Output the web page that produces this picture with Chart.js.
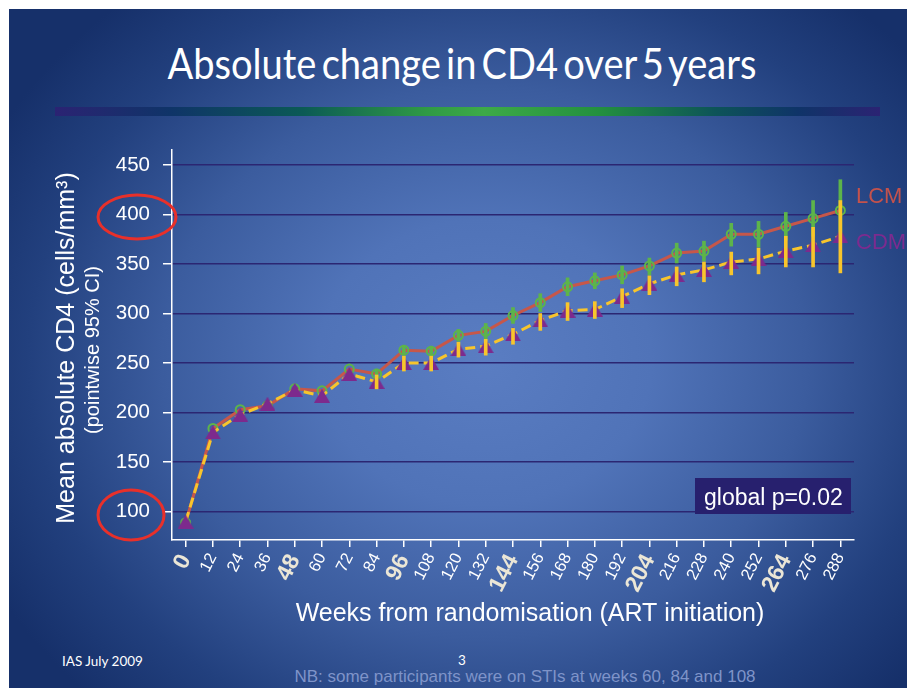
<!DOCTYPE html>
<html lang="en">
<head>
<meta charset="utf-8" />
<title>Absolute change in CD4 over 5 years</title>
<script src="https://cdn.jsdelivr.net/npm/chart.js"></script>
<style>
  body { margin: 0; width: 907px; height: 688px; overflow: hidden; position: relative; background: #fff; }
  #slide {
    position: absolute; left: 9px; top: 9px; width: 898px; height: 679px;
    background: radial-gradient(ellipse 62% 70% at 53% 52%, #5a7dc2 0%, #5073b8 30%, #3b5c9e 58%, #22407e 82%, #16306a 100%);
  }
  #title {
    position: absolute; left: 462px; top: 38px; white-space: nowrap;
    font-family: Lato, sans-serif; font-size: 42px; color: #fff; word-spacing: -5px;
    transform-origin: 0 0;
  }
  #rule {
    position: absolute; left: 55px; top: 107px; width: 825px; height: 9px;
    background: linear-gradient(to right, #2b2373 0%, #0f3468 14%, #0b5a55 30%, #2f9a45 45%, #3daa48 52%, #23903f 66%, #0d5458 80%, #0f3468 90%, #2b2373 100%);
  }
  .foot { position: absolute; color: #fff; font-family: Lato, sans-serif; font-size: 13.5px; }
  #nb { position: absolute; left: 525px; top: 667px; transform: translateX(-50%); white-space: nowrap;
    font-family: "Liberation Sans", Arial, sans-serif; font-size: 17px; color: #7f94c9; }
  canvas { position: absolute; left: 0; top: 0; }
</style>
</head>
<body>
<div id="slide"></div>
<div id="title">Absolute change in CD4 over 5 years</div>
<div id="rule"></div>
<div class="foot" style="left:62px; top:653px;">IAS July 2009</div>
<div class="foot" style="left:458px; top:652px;">3</div>
<div id="nb">NB: some participants were on STIs at weeks 60, 84 and 108</div>
<canvas id="chart" width="907" height="688"></canvas>
<script>
// weeks from randomisation
const weeks = ['0', '12', '24', '36', '48', '60', '72', '84', '96', '108', '120', '132', '144',
  '156', '168', '180', '192', '204', '216', '228', '240', '252', '264', '276', '288'];
const boldWeeks = ['0', '48', '96', '144', '204', '264'];
const yTicks = [100, 150, 200, 250, 300, 350, 400, 450];

// LCM arm: mean and pointwise 95% CI (early CIs hidden under the markers)
const lcmMean = [89, 184, 203, 207, 224, 222, 244, 239, 263, 262, 278, 282, 298,
  311, 327, 333, 339, 348, 361, 363, 380, 380, 388, 396, 404];
const lcmLow = [null, null, null, null, null, null, null, 234, 258, 257, 272, 274, 290,
  302, 318, 325, 330, 339, 351, 353, 368, 367, 374, 378, 372];
const lcmHigh = [null, null, null, null, null, null, null, 244, 268, 267, 284, 290, 306,
  320, 336, 341, 348, 356, 371, 373, 391, 393, 402, 414, 435];

// CDM arm
const cdmMean = [90, 180, 198, 209, 223, 217, 239, 231, 250, 250, 264, 267, 279,
  293, 303, 304, 317, 330, 339, 344, 352, 355, 363, 369, 378];
const cdmLow = [null, null, null, null, null, null, null, 224, 242, 242, 256, 258, 269,
  283, 293, 295, 306, 319, 328, 332, 339, 340, 347, 347, 341];
const cdmHigh = [null, null, null, null, null, null, null, 238, 257, 257, 271, 274, 285,
  300, 311, 312, 325, 338, 347, 352, 362, 366, 378, 387, 414];

const FONT = '"Liberation Sans", Arial, sans-serif';

function triangleMark(w, h, color) {
  const c = document.createElement('canvas');
  c.width = w; c.height = h;
  const g = c.getContext('2d');
  g.fillStyle = color;
  g.beginPath();
  g.moveTo(w / 2, 0); g.lineTo(w, h); g.lineTo(0, h);
  g.closePath(); g.fill();
  return c;
}

function ciPairs(low, high) {
  return low.map((v, i) => (v === null ? null : [v, high[i]]));
}

// text and callouts sitting on the slide around the plot
const slideText = {
  id: 'slideText',
  afterDraw(chart) {
    const ctx = chart.ctx;
    ctx.save();
    ctx.fillStyle = '#fff';
    ctx.textAlign = 'center';
    ctx.textBaseline = 'middle';

    ctx.save();
    ctx.translate(67, 348);
    ctx.rotate(-Math.PI / 2);
    ctx.font = '25px ' + FONT;
    ctx.fillText('Mean absolute CD4 (cells/mm³)', 0, 0);
    ctx.restore();

    ctx.save();
    ctx.translate(93, 350);
    ctx.rotate(-Math.PI / 2);
    ctx.font = '20px ' + FONT;
    ctx.fillText('(pointwise 95% CI)', 0, 0);
    ctx.restore();

    ctx.font = '25px ' + FONT;
    ctx.fillText('Weeks from randomisation (ART initiation)', 530, 614);

    ctx.textAlign = 'left';
    ctx.textBaseline = 'alphabetic';
    ctx.font = '22px ' + FONT;
    ctx.fillStyle = '#c4524c';
    ctx.fillText('LCM', 856, 203);
    ctx.fillStyle = '#7d2b8f';
    ctx.fillText('CDM', 856, 249);

    ctx.fillStyle = '#27206e';
    ctx.fillRect(695, 478, 156, 36);
    ctx.fillStyle = '#fff';
    ctx.font = '23px ' + FONT;
    ctx.fillText('global p=0.02', 704, 505);

    ctx.strokeStyle = '#e8302a';
    ctx.lineWidth = 3;
    ctx.beginPath();
    ctx.ellipse(137, 217, 39, 22, 0, 0, Math.PI * 2);
    ctx.stroke();
    ctx.beginPath();
    ctx.ellipse(131, 515, 33, 25, 0, 0, Math.PI * 2);
    ctx.stroke();
    ctx.restore();
  }
};

new Chart(document.getElementById('chart'), {
  type: 'line',
  data: {
    labels: weeks,
    datasets: [
      {
        label: 'LCM',
        data: lcmMean,
        order: 4,
        borderColor: '#c6574a',
        borderWidth: 3,
        tension: 0,
        pointStyle: 'circle',
        pointRadius: 4.5,
        pointBorderWidth: 2,
        pointBorderColor: '#5db44a',
        pointBackgroundColor: 'rgba(0,0,0,0)'
      },
      {
        type: 'bar',
        label: 'LCM 95% CI',
        data: ciPairs(lcmLow, lcmHigh),
        order: 3,
        backgroundColor: '#5db44a',
        barThickness: 3,
        grouped: false
      },
      {
        label: 'CDM',
        data: cdmMean,
        order: 2,
        borderColor: '#f8c52c',
        borderWidth: 3,
        borderDash: [10, 5],
        tension: 0,
        pointStyle: triangleMark(16, 14, '#7d2a8d'),
        pointRadius: 7
      },
      {
        type: 'bar',
        label: 'CDM 95% CI',
        data: ciPairs(cdmLow, cdmHigh),
        order: 1,
        backgroundColor: '#f8c52c',
        barThickness: 3,
        grouped: false
      }
    ]
  },
  options: {
    responsive: false,
    animation: false,
    layout: { padding: { left: 0, top: 150, right: 53, bottom: 0 } },
    plugins: { legend: { display: false }, tooltip: { enabled: false } },
    scales: {
      x: {
        type: 'category',
        offset: true,
        afterFit: (s) => { s.height = 148; },
        border: { color: '#fff', width: 1.5 },
        grid: { offset: false, drawOnChartArea: false, tickLength: 7, tickColor: '#fff', lineWidth: 1.5 },
        ticks: {
          autoSkip: false,
          minRotation: 63,
          maxRotation: 63,
          padding: 3,
          color: (c) => boldWeeks.includes(weeks[c.index]) ? '#ebe6d6' : '#ffffff',
          font: (c) => boldWeeks.includes(weeks[c.index])
            ? { family: FONT, size: 23, weight: 'bold' }
            : { family: FONT, size: 16.5 }
        }
      },
      y: {
        min: 71.5,
        max: 465,
        afterFit: (s) => { s.width = 172; },
        afterBuildTicks: (s) => { s.ticks = yTicks.map(v => ({ value: v })); },
        border: { color: '#fff', width: 1.5 },
        grid: { color: '#2b2672', lineWidth: 1.5, tickColor: '#fff', tickLength: 9 },
        ticks: { color: '#fff', padding: 13, font: { family: FONT, size: 20.5 } }
      }
    }
  },
  plugins: [slideText]
});

// squeeze the title to the narrow width of the original slide font
const title = document.getElementById('title');
const k = 589 / title.offsetWidth;
title.style.transform = 'scaleX(' + k + ') translateX(-50%)';
</script>
</body>
</html>
